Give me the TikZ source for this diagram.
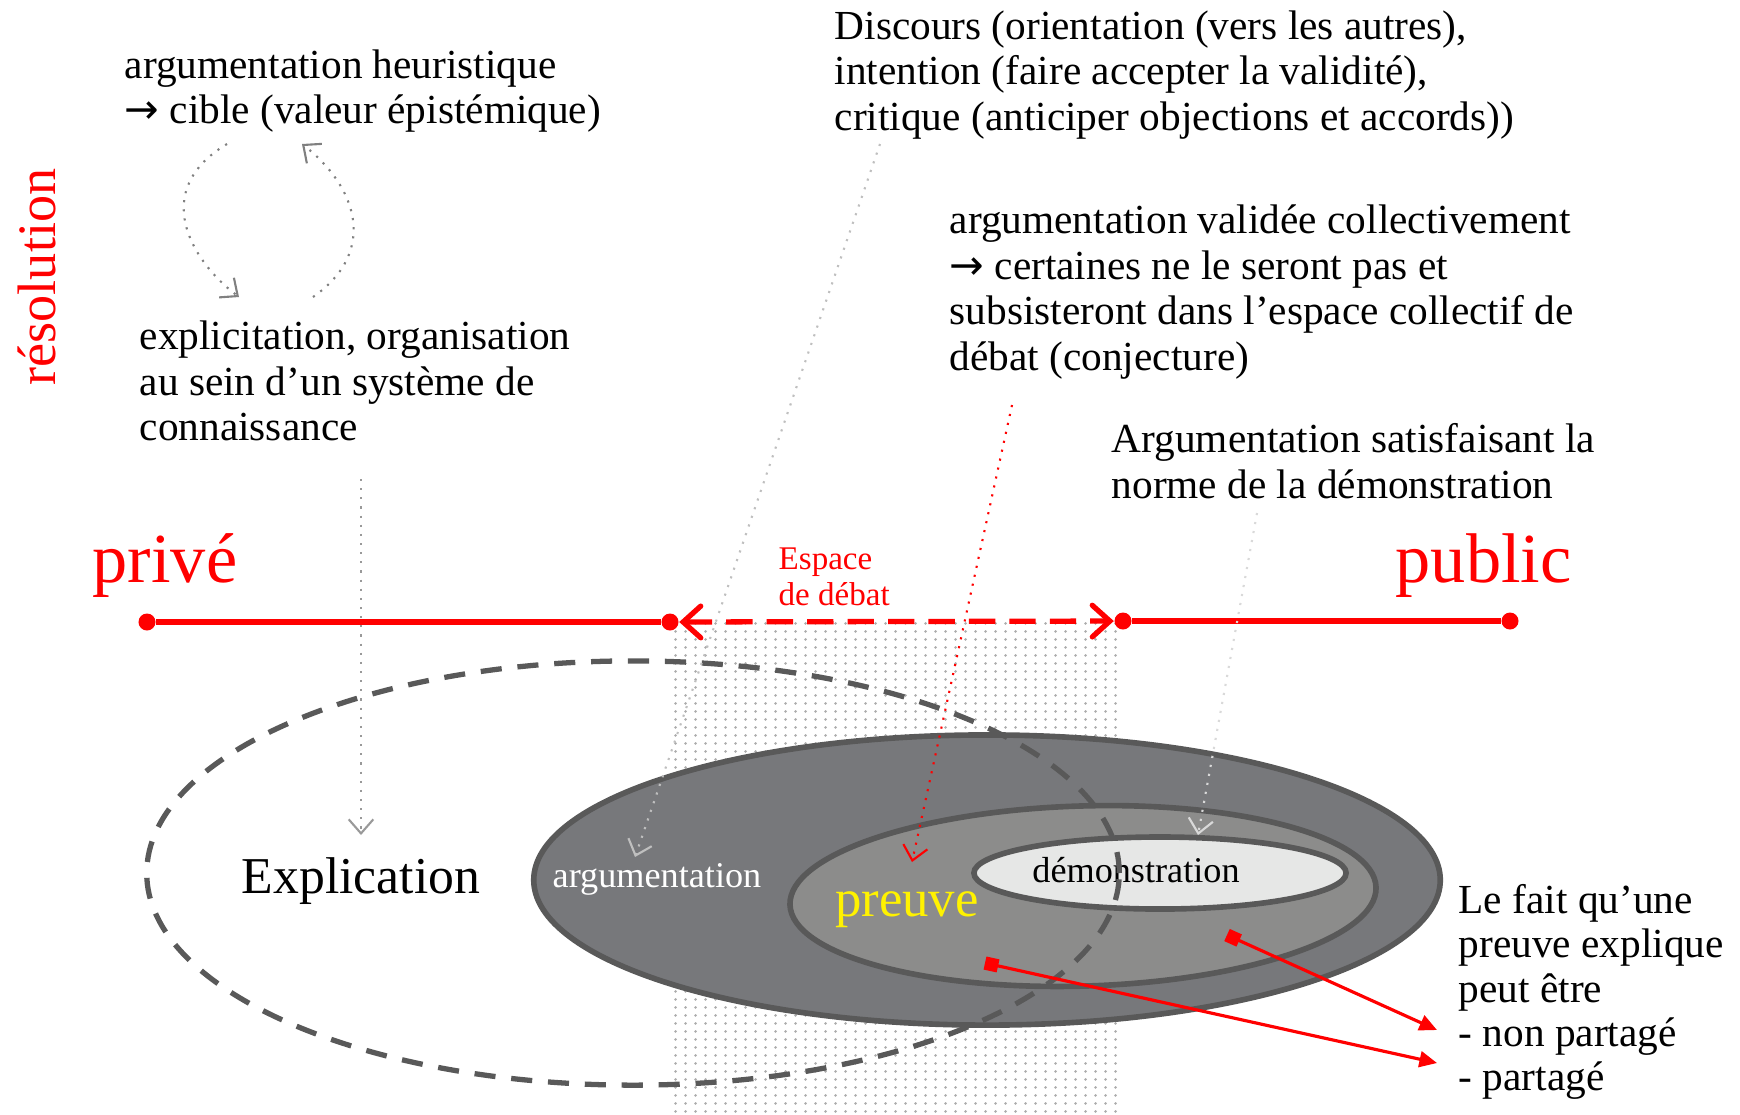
\documentclass[tikz,border=0pt]{standalone}
\usepackage{fontspec}
\setmainfont{Liberation Serif}
\newfontfamily\symfont{DejaVu Sans}
\usetikzlibrary{arrows.meta,shapes.geometric,patterns.meta}
\definecolor{dk}{HTML}{595959}
\definecolor{ellA}{HTML}{77787B}
\definecolor{ellB}{HTML}{8C8C8B}
\definecolor{ellC}{HTML}{E6E7E6}
\tikzdeclarepattern{
  name=stip,
  type=uncolored,
  bounding box={(0pt,0pt) and (2.85pt,2.28pt)},
  tile size={(2.85pt,2.28pt)},
  code={\fill (1.42pt,1.14pt) circle (0.45pt);}
}
\begin{document}
\begin{tikzpicture}[x=0.01cm,y=-0.01cm,
  body/.style={font=\fontsize{11.75}{12.9}\selectfont, align=left, anchor=west, inner sep=0pt},
  redlbl/.style={text=red, inner sep=0pt},
  rdot/.style={circle, fill=red, minimum size=0.17cm, inner sep=0pt},
  rline/.style={red, line width=1.5pt},
  oval/.style={ellipse, draw=dk, line width=1.6pt, inner sep=0pt},
  note/.style={dotted, line width=0.6pt, -{Straight Barb[length=4pt,width=7pt]}},
  redarrow/.style={red, line width=0.9pt, {Square[length=3.8pt,width=3.8pt]}-{Triangle[length=5pt,width=4.5pt]}}
]
\useasboundingbox (0,0) rectangle (1740,1114);

% debate space stipple
\fill[pattern=stip, pattern color=gray!65] (670,617) rectangle (1122,1114);

% ellipses
\node[oval, fill=ellA, minimum width=9.06cm, minimum height=2.9cm] (argE) at (987,880) {};
\node[oval, fill=ellB, minimum width=5.86cm, minimum height=1.8cm, rotate=1.7] (prE) at (1083,896) {};
\node[oval, fill=ellC, minimum width=3.72cm, minimum height=0.72cm] (demE) at (1160,873) {};

% labels inside
\node[inner sep=0pt, text=white, font=\fontsize{10.3}{12}\selectfont] (argL) at (657,879) {argumentation};
\node[inner sep=0pt, text=yellow, font=\fontsize{15}{17}\selectfont] (prL) at (907,910) {preuve};
\node[inner sep=0pt, font=\fontsize{10.3}{12}\selectfont] (demL) at (1136,870) {démonstration};

% big dashed ellipse
\node[ellipse, draw=dk, line width=1.5pt, dash pattern=on 6pt off 4.5pt, inner sep=0pt,
      minimum width=9.72cm, minimum height=4.24cm] (explE) at (633,873) {};
\node[inner sep=0pt, font=\fontsize{14.7}{17}\selectfont] (explL) at (361,881) {Explication};

% red axis
\node[rdot] (d1) at (147,622) {};
\node[rdot] (d2) at (670,622) {};
\node[rdot] (d3) at (1123,621) {};
\node[rdot] (d4) at (1510,621) {};
\draw[rline] (d1) -- (d2);
\draw[rline] (d3) -- (d4);
\draw[rline, dash pattern=on 7.5pt off 4pt,
  {Straight Barb[length=5pt,width=9pt,line cap=round]}-{Straight Barb[length=5pt,width=9pt,line cap=round]}] (d2) -- (d3);

\node[redlbl, anchor=west, font=\fontsize{20}{22}\selectfont] (prive) at (92,566) {privé};
\node[redlbl, anchor=west, font=\fontsize{20}{22}\selectfont] (public) at (1395,566) {public};
\node[redlbl, anchor=west, align=left, font=\fontsize{9.4}{10.1}\selectfont] (espace) at (778,577) {Espace\\de débat};
\node[redlbl, rotate=90, font=\fontsize{15.4}{17}\selectfont] (resol) at (37,277) {résolution};

% text blocks
\node[body] (heur) at (124,91) {argumentation heuristique\\{\symfont →} cible (valeur épistémique)};
\node[body] (explic) at (139,381) {explicitation, organisation\\au sein d’un système de\\connaissance};
\node[body] (disc) at (834,75) {Discours (orientation (vers les autres),\\intention (faire accepter la validité),\\critique (anticiper objections et accords))};
\node[body] (valid) at (949,292) {argumentation validée collectivement\\{\symfont →} certaines ne le seront pas et\\subsisteront dans l’espace collectif de\\débat (conjecture)};
\node[body] (satisf) at (1111,461) {Argumentation satisfaisant la\\norme de la démonstration};
\node[body, font=\fontsize{11.75}{12.6}\selectfont] (fait) at (1458,992) {Le fait qu’une\\preuve explique\\peut être\\- non partagé\\- partagé};

% connector end points
\coordinate (hA) at (227,144);
\coordinate (hB) at (239,297);
\coordinate (hC) at (313,297);
\coordinate (hD) at (302,144);
\coordinate (eA) at (361,479);
\coordinate (eB) at (361,835);
\coordinate (dA) at (880,144);
\coordinate (dB) at (635,857);
\coordinate (vA) at (1012,405);
\coordinate (vB) at (912,862);
\coordinate (sA) at (1257,513);
\coordinate (sB) at (1198,835);
\coordinate (r1) at (985,963);
\coordinate (r2) at (1227,935);
\coordinate (t1) at (1437,1063);
\coordinate (t2) at (1437,1030);

% cycle arrows
\draw[note, gray] (hA) .. controls (150,190) and (190,260) .. (hB);
\draw[note, gray] (hC) .. controls (380,250) and (355,185) .. (hD);

% dotted pointers
\draw[note, gray!80] (eA) -- (eB);
\draw[note, gray!50] (dA) -- (dB);
\draw[note, red] (vA) -- (vB);
\draw[note, gray!30] (sA) -- (sB);

% red arrows
\draw[redarrow] (r1) -- (t1);
\draw[redarrow] (r2) -- (t2);
\end{tikzpicture}
\end{document}
